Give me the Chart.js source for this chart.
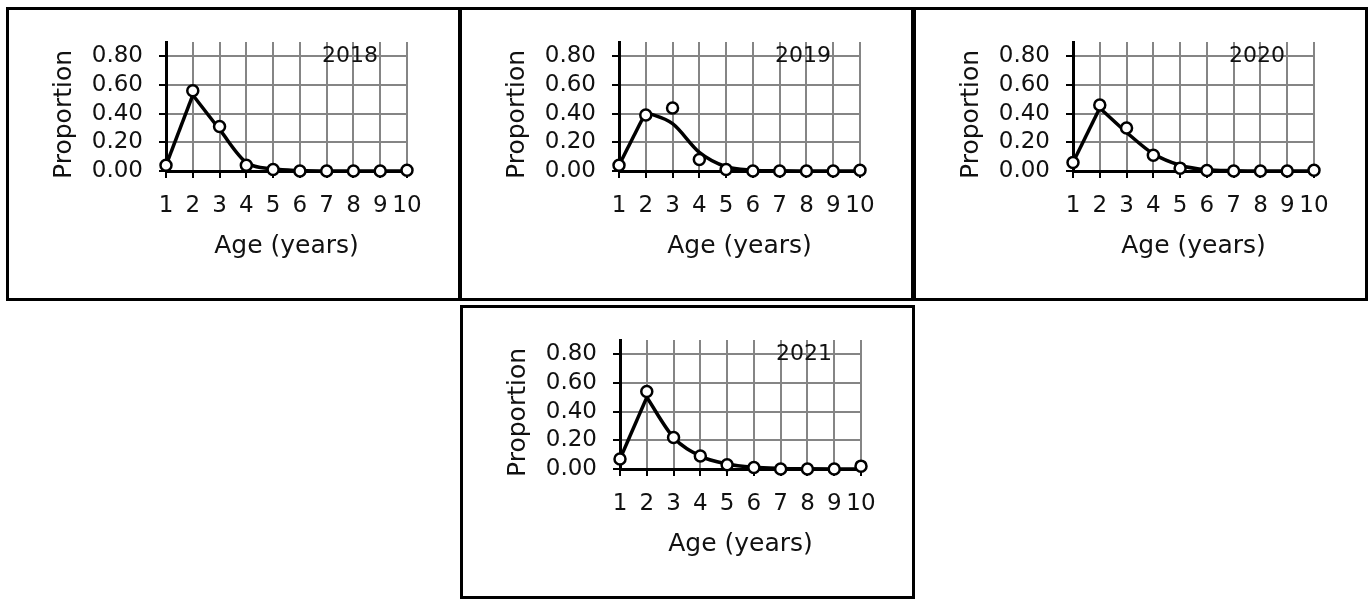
<!DOCTYPE html>
<html lang="en">
<head>
  <meta charset="UTF-8">
  <title>Proportion by age, 2018-2021</title>
  <script src="https://cdn.jsdelivr.net/npm/chart.js"></script>
  <style>
    body { margin: 0; background: #fff; }
    .panel { position: absolute; width: 449px; height: 288px; border: 3px solid #000; background: #fff; }
    .panel canvas { display: block; }
  </style>
</head>
<body>
  <div class="panel" style="left:6px;top:7px"><canvas id="c2018" width="449" height="288"></canvas></div>
  <div class="panel" style="left:459px;top:7px"><canvas id="c2019" width="449" height="288"></canvas></div>
  <div class="panel" style="left:913px;top:7px"><canvas id="c2020" width="449" height="288"></canvas></div>
  <div class="panel" style="left:460px;top:305px"><canvas id="c2021" width="449" height="288"></canvas></div>

  <script>
    // ages on the x axis, ticks on the y axis
    const ages = ['1', '2', '3', '4', '5', '6', '7', '8', '9', '10'];
    const yTicks = [0, 0.2, 0.4, 0.6, 0.8];
    const years = ['2018', '2019', '2020', '2021'];

    // observed proportions (circles)
    const obs2018 = [0.04, 0.56, 0.31, 0.04, 0.01, 0.00, 0.00, 0.00, 0.00, 0.005];
    const obs2019 = [0.04, 0.39, 0.44, 0.08, 0.01, 0.00, 0.00, 0.00, 0.00, 0.005];
    const obs2020 = [0.06, 0.46, 0.30, 0.11, 0.02, 0.003, 0.00, 0.00, 0.00, 0.005];
    const obs2021 = [0.07, 0.54, 0.22, 0.09, 0.03, 0.01, 0.00, 0.00, 0.00, 0.02];

    // fitted proportions (line)
    const fit2018 = [0.04, 0.53, 0.29, 0.06, 0.015, 0.003, 0.00, 0.00, 0.00, 0.00];
    const fit2019 = [0.04, 0.41, 0.33, 0.13, 0.03, 0.006, 0.001, 0.00, 0.00, 0.00];
    const fit2020 = [0.06, 0.44, 0.27, 0.12, 0.04, 0.008, 0.002, 0.00, 0.00, 0.00];
    const fit2021 = [0.07, 0.50, 0.22, 0.09, 0.035, 0.012, 0.004, 0.001, 0.00, 0.00];

    const FONT = '"DejaVu Sans", sans-serif';

    // year text drawn inside the plot, over the grid
    const yearLabel = {
      id: 'yearLabel',
      afterDatasetsDraw(chart, args, opts) {
        const { ctx, scales: { x, y } } = chart;
        ctx.save();
        ctx.font = '22px ' + FONT;
        ctx.fillStyle = '#111';
        ctx.textAlign = 'center';
        ctx.textBaseline = 'middle';
        ctx.fillText(opts.text, x.getPixelForValue(6.87), y.getPixelForValue(0.8));
        ctx.restore();
      }
    };

    function drawPanel(id, year, obs, fit) {
      // fitted line: straight rise to the peak, smooth decline after it
      const rise = fit.map((v, i) => (i <= 1 ? v : null));
      const fall = fit.map((v, i) => (i >= 1 ? v : null));

      new Chart(id, {
        type: 'line',
        data: {
          labels: ages,
          datasets: [
            { data: obs, showLine: false, pointRadius: 5.5, pointBorderWidth: 2.5,
              pointBackgroundColor: '#fff', pointBorderColor: '#000', clip: false },
            { data: rise, borderColor: '#000', borderWidth: 3.5, pointRadius: 0, tension: 0, clip: false },
            { data: fall, borderColor: '#000', borderWidth: 3.5, pointRadius: 0,
              cubicInterpolationMode: 'monotone', clip: false }
          ]
        },
        options: {
          responsive: false,
          animation: false,
          events: [],
          layout: { padding: { top: 32, right: 51, left: 0, bottom: 0 } },
          plugins: {
            legend: { display: false },
            tooltip: { enabled: false },
            yearLabel: { text: year }
          },
          scales: {
            x: {
              offset: false,
              afterFit: s => { s.height = 127; },
              grid: { color: '#858585', lineWidth: 2, tickColor: '#000', tickWidth: 2, tickLength: 7 },
              border: { color: '#000', width: 3 },
              ticks: { autoSkip: false, maxRotation: 0, padding: 14, color: '#111', font: { family: FONT, size: 23 } },
              title: { display: true, text: 'Age (years)', color: '#111',
                       font: { family: FONT, size: 25 }, padding: { top: 0, bottom: 37 } }
            },
            y: {
              min: 0,
              max: 0.9,
              afterFit: s => { s.width = 157; },
              afterBuildTicks: s => { s.ticks = yTicks.map(v => ({ value: v })); },
              grid: { color: '#858585', lineWidth: 2, tickColor: '#000', tickWidth: 2, tickLength: 7 },
              border: { color: '#000', width: 3 },
              ticks: { padding: 16, color: '#111', font: { family: FONT, size: 23 },
                       callback: v => v.toFixed(2) },
              // trailing spaces push the rotated title a little lower, as in the original
              title: { display: true, text: 'Proportion\u00a0\u00a0', color: '#111',
                       font: { family: FONT, size: 25 }, padding: { top: 40, bottom: 0 } }
            }
          }
        },
        plugins: [yearLabel]
      });
    }

    drawPanel('c2018', years[0], obs2018, fit2018);
    drawPanel('c2019', years[1], obs2019, fit2019);
    drawPanel('c2020', years[2], obs2020, fit2020);
    drawPanel('c2021', years[3], obs2021, fit2021);
  </script>
</body>
</html>
